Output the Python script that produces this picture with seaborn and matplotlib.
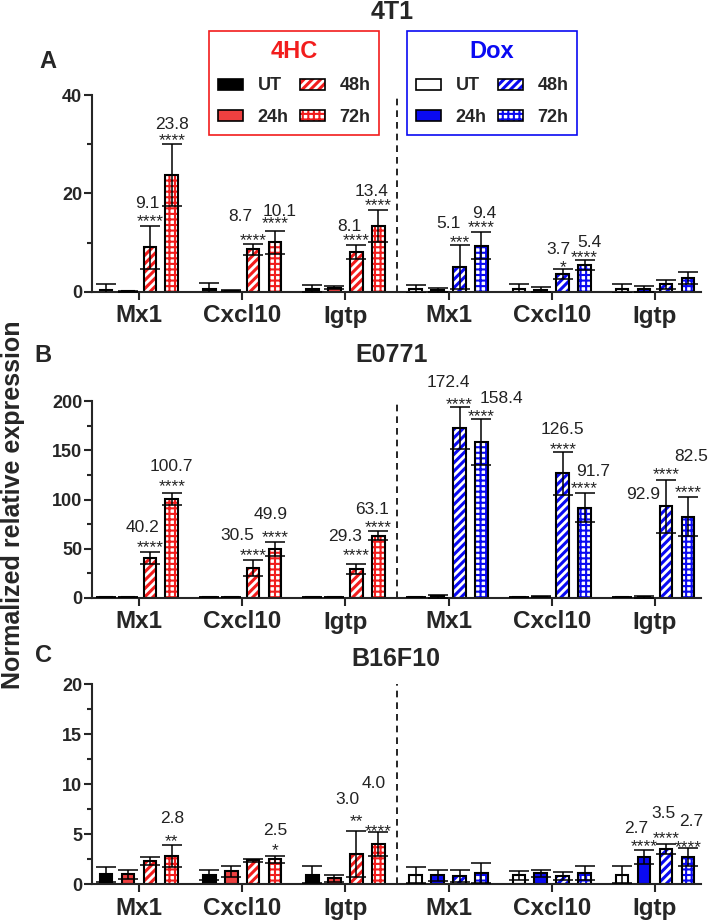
import numpy as np
import pandas as pd
import matplotlib
matplotlib.use("Agg")
import matplotlib.pyplot as plt
import seaborn as sns
from matplotlib.patches import Patch
from matplotlib.colors import to_rgba
from matplotlib.ticker import MultipleLocator
from matplotlib.font_manager import FontProperties

# ------------------------------------------------------------------ data
cell_lines = ["4T1", "E0771", "B16F10"]
treatments = ["4HC", "Dox"]
genes = ["Mx1", "Cxcl10", "Igtp"]
timepoints = ["UT", "24h", "48h", "72h"]

# rows = genes (Mx1, Cxcl10, Igtp), columns = timepoints (UT, 24h, 48h, 72h)
mean_4t1_4hc = [[0.5, 0.15, 9.1, 23.8], [0.7, 0.3, 8.7, 10.1], [0.7, 0.9, 8.1, 13.4]]
sd_4t1_4hc = [[1.1, 0.05, 4.4, 6.3], [1.2, 0.15, 1.1, 2.3], [0.8, 0.3, 1.4, 3.3]]
mean_4t1_dox = [[0.6, 0.4, 5.1, 9.4], [0.6, 0.5, 3.7, 5.4], [0.7, 0.7, 1.6, 2.9]]
sd_4t1_dox = [[0.9, 0.5, 4.5, 2.7], [1.1, 0.5, 1.0, 1.0], [1.0, 0.6, 0.9, 1.2]]

mean_e0771_4hc = [[1.0, 1.0, 40.2, 100.7], [1.0, 1.0, 30.5, 49.9], [1.0, 1.0, 29.3, 63.1]]
sd_e0771_4hc = [[0.3, 0.3, 6.0, 6.3], [0.3, 0.3, 8.4, 7.2], [0.3, 0.3, 5.2, 4.6]]
mean_e0771_dox = [[1.0, 2.0, 172.4, 158.4], [1.0, 1.5, 126.5, 91.7], [1.0, 1.3, 92.9, 82.5]]
sd_e0771_dox = [[0.3, 1.5, 21.2, 23.0], [0.3, 0.6, 21.5, 14.8], [0.3, 0.8, 26.5, 20.0]]

mean_b16_4hc = [[1.0, 1.0, 2.3, 2.8], [0.9, 1.3, 2.4, 2.5], [0.95, 0.6, 3.0, 4.0]]
sd_b16_4hc = [[0.75, 0.45, 0.4, 1.1], [0.5, 0.55, 0.15, 0.35], [0.85, 0.35, 2.3, 1.2]]
mean_b16_dox = [[0.95, 0.9, 0.85, 1.1], [0.9, 1.1, 0.85, 1.1], [0.95, 2.7, 3.5, 2.7]]
sd_b16_dox = [[0.8, 0.55, 0.6, 1.0], [0.45, 0.35, 0.4, 0.7], [0.85, 0.7, 0.5, 0.9]]

# significance marks: (treatment, gene, timepoint, stars)
stars_4t1 = [("4HC", "Mx1", "48h", "****"), ("4HC", "Mx1", "72h", "****"),
             ("4HC", "Cxcl10", "48h", "****"), ("4HC", "Cxcl10", "72h", "****"),
             ("4HC", "Igtp", "48h", "****"), ("4HC", "Igtp", "72h", "****"),
             ("Dox", "Mx1", "48h", "***"), ("Dox", "Mx1", "72h", "****"),
             ("Dox", "Cxcl10", "48h", "*"), ("Dox", "Cxcl10", "72h", "****")]
stars_e0771 = [("4HC", "Mx1", "48h", "****"), ("4HC", "Mx1", "72h", "****"),
               ("4HC", "Cxcl10", "48h", "****"), ("4HC", "Cxcl10", "72h", "****"),
               ("4HC", "Igtp", "48h", "****"), ("4HC", "Igtp", "72h", "****"),
               ("Dox", "Mx1", "48h", "****"), ("Dox", "Mx1", "72h", "****"),
               ("Dox", "Cxcl10", "48h", "****"), ("Dox", "Cxcl10", "72h", "****"),
               ("Dox", "Igtp", "48h", "****"), ("Dox", "Igtp", "72h", "****")]
stars_b16 = [("4HC", "Mx1", "72h", "**"), ("4HC", "Cxcl10", "72h", "*"),
             ("4HC", "Igtp", "48h", "**"), ("4HC", "Igtp", "72h", "****"),
             ("Dox", "Igtp", "24h", "****"), ("Dox", "Igtp", "48h", "****"),
             ("Dox", "Igtp", "72h", "****")]

ylims = {"4T1": 40, "E0771": 200, "B16F10": 20}
ymajor = {"4T1": 20, "E0771": 50, "B16F10": 5}

# ------------------------------------------------------------------ layout (pixels)
# label offsets: (number dx, number dy above cap, stars dy above cap)
label_offsets = {
    "4T1": [(-3, 24, 9), (0, 21, 9), (-13, 29, 9), (5, 21, 13), (-7, 21, 10), (-7, 20, 10),
            (-11, 23, 8), (3, 21, 10), (-4, 21, 7), (5, 20, 8)],
    "E0771": [(-7, 27, 10), (0, 28, 11), (-16, 26, 10), (-4, 29, 10), (-11, 29, 14), (-6, 24, 9),
              (-11, 27, 8), (20, 23, 8), (0, 25, 8), (8, 23, 10), (-23, -12, 11), (3, 42, 10)],
    "B16F10": [(0, 28, 9), (0, 27, 10), (-9, 33, 15), (-5, 50, 6), (-8, 23, 9), (-2, 32, 11), (3, 28, 6)],
}

# ------------------------------------------------------------------ table
means = {("4T1", "4HC"): mean_4t1_4hc, ("4T1", "Dox"): mean_4t1_dox,
         ("E0771", "4HC"): mean_e0771_4hc, ("E0771", "Dox"): mean_e0771_dox,
         ("B16F10", "4HC"): mean_b16_4hc, ("B16F10", "Dox"): mean_b16_dox}
sds = {("4T1", "4HC"): sd_4t1_4hc, ("4T1", "Dox"): sd_4t1_dox,
       ("E0771", "4HC"): sd_e0771_4hc, ("E0771", "Dox"): sd_e0771_dox,
       ("B16F10", "4HC"): sd_b16_4hc, ("B16F10", "Dox"): sd_b16_dox}
stars = {"4T1": stars_4t1, "E0771": stars_e0771, "B16F10": stars_b16}

rows = []
for cl in cell_lines:
    for tr in treatments:
        for gi, g in enumerate(genes):
            for ti, t in enumerate(timepoints):
                rows.append(dict(cell=cl, treatment=tr, gene=g, slot=f"{tr} {g}", time=t,
                                 mean=means[(cl, tr)][gi][ti], sd=sds[(cl, tr)][gi][ti]))
df = pd.DataFrame(rows)
slots = [f"{tr} {g}" for tr in treatments for g in genes]

# ------------------------------------------------------------------ style
sns.set_style("ticks")
plt.rcParams["font.family"] = ["Liberation Sans", "DejaVu Sans"]
plt.rcParams["font.weight"] = "bold"
plt.rcParams["hatch.linewidth"] = 2.2

RED = "#F21D1D"
RED_FILL = "#EE4040"
BLUE = "#0A0AF2"
treat_color = {"4HC": RED, "Dox": BLUE}
HATCH_LW = {"48h": 2.2, "72h": 1.5}


def style_for(tr, t):
    c = treat_color[tr]
    if t == "UT":
        return dict(face="black" if tr == "4HC" else "white", hatch=None, hc=None)
    if t == "24h":
        return dict(face=RED_FILL if tr == "4HC" else BLUE, hatch=None, hc=None)
    if t == "48h":
        return dict(face="white", hatch="////", hc=c)
    return dict(face="white", hatch="+++", hc=c)


def apply_hatch(p, st, t):
    p.set_hatch(st["hatch"])
    try:
        p.set_hatch_linewidth(HATCH_LW[t])
    except AttributeError:
        pass
    try:
        p.set_hatchcolor(st["hc"])
    except AttributeError:
        p._hatch_color = to_rgba(st["hc"])


W, H = 708, 921
fig = plt.figure(figsize=(W / 100, H / 100), dpi=100)

axes_px = {"4T1": (95, 292), "E0771": (401, 598), "B16F10": (684, 884)}
left_px, right_px = 92, 701
WIDTH = 0.85
slot_w = WIDTH / 4

for cl in cell_lines:
    top, bot = axes_px[cl]
    ax = fig.add_axes([left_px / W, 1 - bot / H, (right_px - left_px) / W, (bot - top) / H])
    sub = df[df.cell == cl]
    sns.barplot(data=sub, x="slot", y="mean", hue="time", order=slots, hue_order=timepoints,
                errorbar=None, width=WIDTH, gap=0.42, palette=["black"] * 4,
                edgecolor="black", linewidth=1.5, legend=False, ax=ax, zorder=2)
    xs, ys, es = [], [], []
    centers = {}
    for p in ax.patches:
        xc = p.get_x() + p.get_width() / 2
        ci = int(round(xc))
        hi = int(round((xc - ci) / slot_w + 1.5))
        tr, g = slots[ci].split(" ")
        t = timepoints[hi]
        st = style_for(tr, t)
        p.set_facecolor(st["face"])
        p.set_edgecolor("black")
        if st["hatch"]:
            apply_hatch(p, st, t)
        row = sub[(sub.slot == slots[ci]) & (sub.time == t)].iloc[0]
        xs.append(xc)
        ys.append(p.get_height())
        es.append(row["sd"])
        centers[(tr, g, t)] = (xc, p.get_height(), row["sd"])
    ax.errorbar(xs, ys, yerr=es, fmt="none", ecolor="black", elinewidth=1.1,
                capsize=7, capthick=1.1, zorder=3)

    # annotations
    for (tr, g, t, s), (ndx, ndy, sdy) in zip(stars[cl], label_offsets[cl]):
        xc, m, e = centers[(tr, g, t)]
        cap = m + e
        ax.annotate(s, xy=(xc, cap), xytext=(0, sdy - 10.0), textcoords="offset pixels",
                    ha="center", va="baseline", fontsize=12.5, fontweight="normal",
                    color="#222222", zorder=4)
        ax.annotate(f"{m:.1f}", xy=(xc, cap), xytext=(ndx, ndy - 6.3), textcoords="offset pixels",
                    ha="center", va="baseline", fontsize=12.5, fontweight="normal",
                    color="#222222", zorder=4)

    ax.axvline(2.5, color="black", ls=(0, (4, 3)), lw=1.2, zorder=1)
    ax.set_xlim(-0.455, 5.446)
    ax.set_ylim(0, ylims[cl])
    ax.yaxis.set_major_locator(MultipleLocator(ymajor[cl]))
    ax.yaxis.set_minor_locator(MultipleLocator(ymajor[cl] / 2))
    ax.set_xticks(range(6))
    ax.set_xticklabels(genes * 2, fontsize=17.5, fontweight="bold")
    for lab in ax.get_yticklabels():
        lab.set_fontweight("bold")
    ax.tick_params(axis="y", labelsize=13, width=1.5, length=6, pad=1)
    ax.tick_params(axis="y", which="minor", width=1.5, length=3.5)
    ax.tick_params(axis="x", width=1.5, length=6, pad=3)
    ax.set_xlabel("")
    ax.set_ylabel("")
    sns.despine(ax=ax)
    for sp in ("left", "bottom"):
        ax.spines[sp].set_linewidth(1.5)

# titles and panel letters
fig.text(392 / W, 1 - 12 / H, "4T1", fontsize=18, fontweight="bold", ha="center", va="center")
fig.text(392 / W, 1 - 355 / H, "E0771", fontsize=18, fontweight="bold", ha="center", va="center")
fig.text(396 / W, 1 - 659 / H, "B16F10", fontsize=18, fontweight="bold", ha="center", va="center")
fig.text(48 / W, 1 - 62 / H, "A", fontsize=17, fontweight="bold", ha="center", va="center")
fig.text(43 / W, 1 - 355 / H, "B", fontsize=17, fontweight="bold", ha="center", va="center")
fig.text(44 / W, 1 - 655 / H, "C", fontsize=17, fontweight="bold", ha="center", va="center")
fig.text(13 / W, 1 - 505 / H, "Normalized relative expression", rotation=90, fontsize=18,
         fontweight="bold", ha="center", va="center")

# legends
for tr, x0 in (("4HC", 209), ("Dox", 407)):
    handles = []
    for t in timepoints:
        st = style_for(tr, t)
        handles.append(Patch(facecolor=st["face"], edgecolor="black", linewidth=1.2))
    leg = fig.legend(handles=handles, labels=timepoints, ncol=2, title=tr, loc="upper left",
                     bbox_to_anchor=(x0 / W, 1 - 31 / H), frameon=True, fancybox=False,
                     edgecolor=treat_color[tr], framealpha=1,
                     prop=FontProperties(family=["Liberation Sans"], weight="bold", size=13),
                     title_fontproperties=FontProperties(family=["Liberation Sans"], weight="bold", size=17),
                     handlelength=1.4, handleheight=0.55, handletextpad=0.8, columnspacing=0.6,
                     labelspacing=0.8, borderpad=0.5, borderaxespad=0)
    leg.get_frame().set_linewidth(1.2)
    leg.get_title().set_color(treat_color[tr])
    for h, t in zip(leg.legend_handles, timepoints):
        st = style_for(tr, t)
        h.set_edgecolor("black")
        if st["hatch"]:
            apply_hatch(h, st, t)

fig.savefig("out.png", dpi=100)
